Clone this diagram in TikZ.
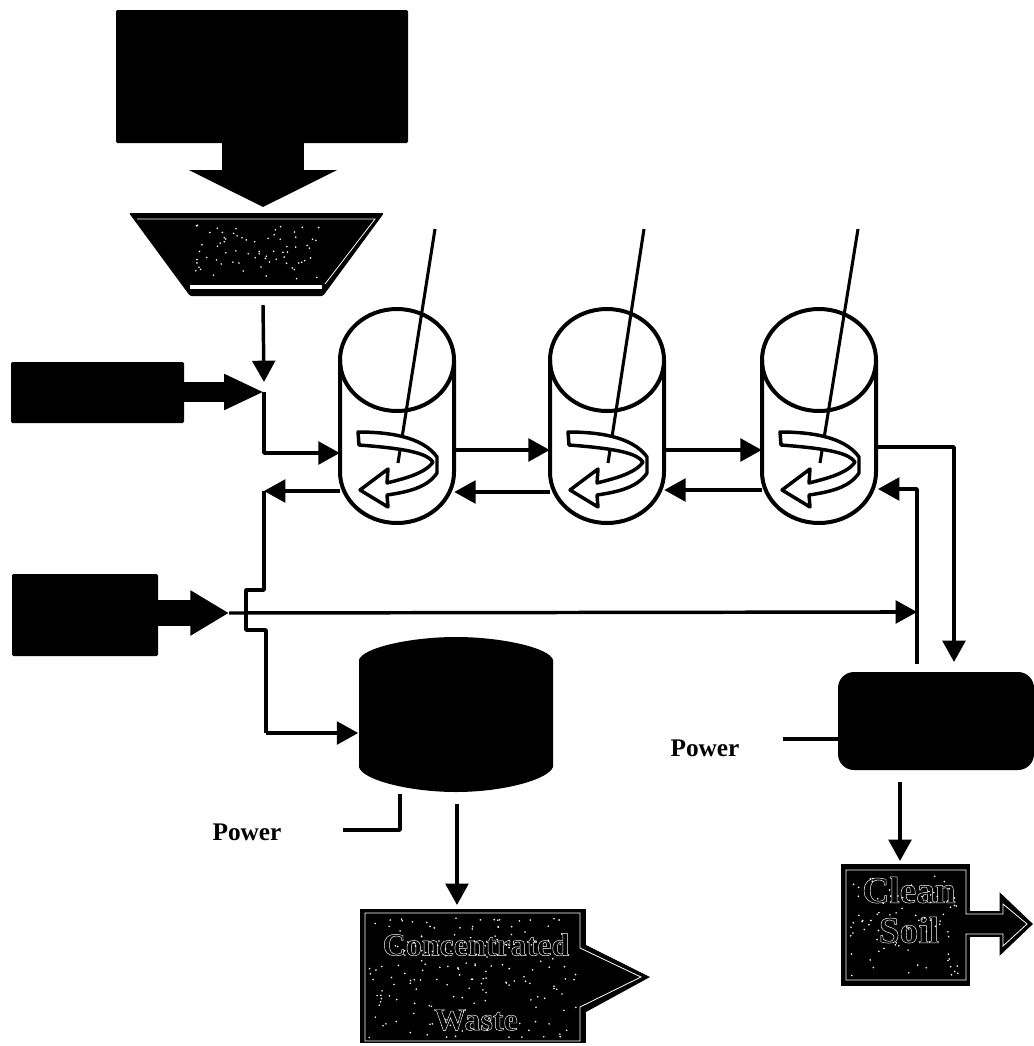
\documentclass[tikz,border=0pt]{standalone}
\usepackage{fontspec}
\setmainfont{Liberation Serif}
\usetikzlibrary{arrows.meta, calc}
\newcommand{\hollowtext}[1]{\special{pdf:code 1 Tr 0.35 w 1 1 1 RG}#1\special{pdf:code 0 Tr 0 0 0 RG}}

\begin{document}
\begin{tikzpicture}[
    x=0.75pt, y=-0.75pt,
    solidbox/.style={rectangle, fill=black, inner sep=0pt, rounded corners=1pt},
    tankbox/.style={rectangle, inner sep=0pt, minimum width=85.5pt, minimum height=160.5pt},
    wastebox/.style={rectangle, fill=black, inner sep=0pt, align=center, text=black, font=\bfseries},
    label/.style={font=\bfseries\fontsize{19}{22}\selectfont, inner sep=0pt},
    flow/.style={line width=2.6pt, -{Triangle[length=16pt, width=17pt]}, line join=round},
    wire/.style={line width=2.6pt, line join=round},
    inset/.style={white, line width=0.6pt},
    stirtank/.pic={
      \draw[line width=3pt] (-57,-56) -- (-57,56) arc[start angle=180, end angle=0, x radius=57, y radius=51] -- (57,-56);
      \draw[line width=3pt] (0,-56) ellipse [x radius=57, y radius=51];
      \draw[line width=2.3pt] (#1,-187) -- (1,47);
      \draw[line width=2.6pt, fill=white, line join=round] (-39,16) .. controls (-10,16) and (25,20) .. (40,41)
        -- (40,57) .. controls (30,72) and (10,76) .. (-10,79) -- (-9,91) -- (-37,74) -- (-9,53) -- (-10,67)
        .. controls (5,63) and (28,58) .. (36,46) .. controls (30,38) and (15,33) .. (-38,29) -- cycle;
    }
  ]
    \useasboundingbox (0,0) rectangle (1034,1046);

    % feed and hopper
    \node[solidbox, minimum width=219pt, minimum height=99.75pt] (feed) at (262,76.5) {};
    \fill[rounded corners=1pt] (129,213) -- (384,213) -- (323,296) -- (190,296) -- cycle;
    \coordinate (hopperin) at (263,207);
    \draw[line width=61.5pt, -{Triangle[length=27.75pt, width=110pt]}] (feed.south -| hopperin) -- (hopperin);
    \draw[inset] (137,219) -- (375,219) -- (325,284);
    \fill[white] (190,285) rectangle (322,289);

    % left supply boxes
    \node[solidbox, minimum width=129.75pt, minimum height=45.75pt] (supplya) at (97.5,392.5) {};
    \node[solidbox, minimum width=109.5pt, minimum height=61.5pt] (supplyb) at (85,615) {};
    \coordinate (joina) at (264,392);
    \coordinate (joinb) at (229,613);
    \draw[line width=15pt, -{Triangle[length=30pt, width=25pt]}] (supplya.east |- joina) -- (joina);
    \draw[line width=20pt, -{Triangle[length=29pt, width=32pt]}] (supplyb.east |- joinb) -- (joinb);

    % stirred tanks
    \foreach \name/\cx/\topx in {tanka/397/38, tankb/607/37, tankc/819/39} {
      \node[tankbox] (\name) at (\cx,416) {};
      \pic at (\cx,416) {stirtank=\topx};
    }

    % flows between tanks
    \draw[flow] ($(tanka.east)+(0,34)$) -- ($(tankb.west)+(0,34)$);
    \draw[flow] ($(tankb.east)+(0,34)$) -- ($(tankc.west)+(0,34)$);
    \draw[flow] ($(tankb.west)+(0,76)$) -- ($(tanka.east)+(0,76)$);
    \draw[flow] ($(tankc.west)+(0,74)$) -- ($(tankb.east)+(0,74)$);

    % evaporator, filter unit
    \node[rectangle, inner sep=0pt, minimum width=146.25pt, minimum height=116pt] (evap) at (456,714.5) {};
    \fill (359,660) .. controls (362,648) and (410,637) .. (456,637) .. controls (502,637) and (550,648) .. (553,660)
      -- (553,767) .. controls (548,780) and (502,792) .. (456,792) .. controls (410,792) and (362,780) .. (359,767) -- cycle;
    \node[solidbox, rounded corners=12pt, minimum width=147pt, minimum height=73.5pt] (filter) at (936,721) {};

    % outlets
    \node[wastebox, minimum width=169pt, minimum height=100.5pt] (waste) at (473,976) {};
    \fill (waste.east |- 0,945) -- (650,977) -- (waste.east |- 0,1012) -- cycle;
    \node[wastebox, minimum width=96.75pt, minimum height=91.5pt] (clean) at (905.5,925) {};
    \draw[line width=19pt, -{Triangle[length=25pt, width=46pt]}] (clean.east |- 0,924) -- (1033,924);

    \coordinate (hopperout) at (263,305);
    \draw[flow] (hopperout) -- (joina |- 0,382);
    \draw[flow] (joina) |- ($(tanka.west)+(0,37)$);
    \draw[flow] ($(tanka.west)+(0,75)$) -- (264,491);
    \draw[wire] (264,491) -- (264,590) -- (246,590) -- (246,630) -- (266,630) -- (266,733);
    \draw[flow] (266,733) -- (evap.west |- 0,733);
    \draw[wire] (joinb) -- (895,612);
    \draw[flow] (880,612) -- (917,612);
    \coordinate (filterup) at (917,664);
    \draw[flow] (filterup) |- (878,489);
    \draw[flow] (877,447) -| (954,662);

    % power lines
    \node[label] (powera) at (247,832) {Power};
    \node[label] (powerb) at (705,748) {Power};
    \coordinate (powerain) at (343,830);
    \coordinate (powerbin) at (783,739);
    \draw[wire] (powerain) -| (400,794);
    \draw[wire] (powerbin) -- (filter.west |- powerbin);

    \draw[flow] (457,804) -- (457,905);
    \draw[flow] (900,782) -- (900,861);

    % scanned grain in the patterned shapes
    \pgfmathsetseed{11}
    \foreach \xa/\ya/\xw/\yh/\num in {195/225/125/55/70, 368/918/210/120/170, 850/874/112/102/80} {
      \foreach \i in {1,...,\num}
        \fill[white] ({\xa+\xw*rnd},{\ya+\yh*rnd}) circle (0.9);
    }

    % outlet texts
    \draw[inset] (365,913) -- (580,913) -- (580,948) -- (641,977) -- (580,1007) -- (580,1041) -- (365,1041) -- cycle;
    \draw[inset] (846,870) -- (966,870) -- (966,914) -- (1003,914) -- (1003,904) -- (1027,924) -- (1003,946)
      -- (1003,934) -- (966,934) -- (966,980) -- (846,980) -- cycle;
    \node[font=\bfseries\fontsize{24}{56}\selectfont, align=center, inner sep=0pt] (wastetext) at (476,982) {\hollowtext{Concentrated}\\\hollowtext{Waste}};
    \node[font=\bfseries\fontsize{28}{30}\selectfont, align=center, inner sep=0pt] (cleantext) at (909,910) {\hollowtext{Clean}\\\hollowtext{Soil}};
  \end{tikzpicture}
\end{document}
